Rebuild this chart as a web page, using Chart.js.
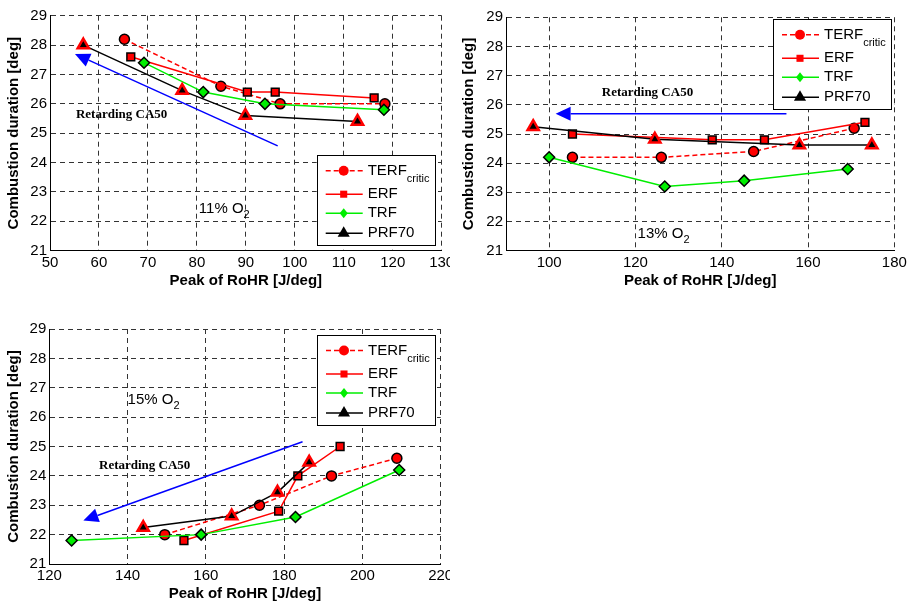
<!DOCTYPE html>
<html>
<head>
<meta charset="utf-8">
<script src="https://cdn.jsdelivr.net/npm/chart.js@4"></script>
<style>
  body { margin: 0; background: #fff; width: 912px; height: 605px; position: relative; overflow: hidden; }
  .panel { position: absolute; }
  canvas { display: block; }
</style>
</head>
<body>
<div class="panel" style="left:0;top:0"><canvas id="c11" width="450" height="300"></canvas></div>
<div class="panel" style="left:455px;top:0"><canvas id="c13" width="457" height="300"></canvas></div>
<div class="panel" style="left:0;top:300px"><canvas id="c15" width="450" height="305"></canvas></div>
<script>
// series names (first one carries a subscript in the legend)
var seriesNames = ["TERF", "ERF", "TRF", "PRF70"];
var seriesSubs = ["critic", "", "", ""];

// axis ticks
var yTicks = [21, 22, 23, 24, 25, 26, 27, 28, 29];
var xTicks11 = [50, 60, 70, 80, 90, 100, 110, 120, 130];
var xTicks13 = [100, 120, 140, 160, 180];
var xTicks15 = [120, 140, 160, 180, 200, 220];

// 11% O2 : peak of RoHR [J/deg] and combustion duration [deg]
var rohr11Terf = [65.2, 84.9, 97.0, 118.4];
var dur11Terf = [28.2, 26.6, 26.0, 26.0];
var rohr11Erf = [66.5, 90.3, 96.0, 116.2];
var dur11Erf = [27.6, 26.4, 26.4, 26.2];
var rohr11Trf = [69.2, 81.3, 93.9, 118.2];
var dur11Trf = [27.4, 26.4, 26.0, 25.8];
var rohr11Prf = [56.8, 77.0, 89.9, 112.8];
var dur11Prf = [28.0, 26.45, 25.6, 25.4];

// 13% O2
var rohr13Terf = [105.4, 126.0, 147.4, 170.7];
var dur13Terf = [24.2, 24.2, 24.4, 25.2];
var rohr13Erf = [105.4, 137.8, 149.9, 173.2];
var dur13Erf = [25.0, 24.8, 24.8, 25.4];
var rohr13Trf = [100.0, 126.8, 145.2, 169.2];
var dur13Trf = [24.2, 23.2, 23.4, 23.8];
var rohr13Prf = [96.3, 124.5, 158.0, 174.8];
var dur13Prf = [25.25, 24.82, 24.62, 24.62];

// 15% O2
var rohr15Terf = [149.5, 173.7, 192.1, 208.8];
var dur15Terf = [22.0, 23.0, 24.0, 24.6];
var rohr15Erf = [154.4, 178.6, 183.5, 194.3];
var dur15Erf = [21.8, 22.8, 24.0, 25.0];
var rohr15Trf = [125.7, 158.8, 182.9, 209.4];
var dur15Trf = [21.8, 22.0, 22.6, 24.2];
var rohr15Prf = [144.0, 166.6, 178.3, 186.4];
var dur15Prf = [22.24, 22.63, 23.44, 24.46];

var FONT = "'Liberation Sans', Arial, sans-serif";

var styles = [
  { borderColor: "#ff0000", borderWidth: 1.5, borderDash: [5, 3], pointStyle: "circle", pointRadius: 5,
    pointBackgroundColor: "#ff0000", pointBorderColor: "#000", pointBorderWidth: 1.5, order: 3 },
  { borderColor: "#ff0000", borderWidth: 1.5, pointStyle: "rect", pointRadius: 5.5,
    pointBackgroundColor: "#ff0000", pointBorderColor: "#000", pointBorderWidth: 1.5, order: 2 },
  { borderColor: "#00ee00", borderWidth: 1.5, pointStyle: "rectRot", pointRadius: 5.5,
    pointBackgroundColor: "#00ee00", pointBorderColor: "#000", pointBorderWidth: 1.5, order: 1 },
  { borderColor: "#000000", borderWidth: 1.5, pointStyle: "triangle", pointRadius: 6.5,
    pointBackgroundColor: "#000", pointBorderColor: "#ff0000", pointBorderWidth: 2.5, order: 0 }
];

function series(i, xs, ys) {
  var ds = { label: seriesNames[i], showLine: true, data: [] };
  for (var k = 0; k < xs.length; k++) ds.data.push({ x: xs[k], y: ys[k] });
  for (var key in styles[i]) ds[key] = styles[i][key];
  return ds;
}

function drawMarker(ctx, style, x, y, r) {
  ctx.beginPath();
  if (style === "circle") {
    ctx.arc(x, y, r, 0, Math.PI * 2);
  } else if (style === "rect") {
    var s = r * Math.SQRT1_2;
    ctx.rect(x - s, y - s, 2 * s, 2 * s);
  } else if (style === "rectRot") {
    ctx.moveTo(x, y - r); ctx.lineTo(x + r * 0.8, y); ctx.lineTo(x, y + r); ctx.lineTo(x - r * 0.8, y);
    ctx.closePath();
  } else {
    ctx.moveTo(x, y - r);
    ctx.lineTo(x + r * 0.866, y + r * 0.5);
    ctx.lineTo(x - r * 0.866, y + r * 0.5);
    ctx.closePath();
  }
  ctx.fill();
}

// arrow, notes and the boxed legend
var decorPlugin = {
  id: "decor",
  afterDatasetsDraw: function (chart, args, o) {
    var ctx = chart.ctx, xs = chart.scales.x, ys = chart.scales.y, a = chart.chartArea;
    ctx.save();

    // blue "retarding" arrow
    var x1 = xs.getPixelForValue(o.arrow[0][0]), y1 = ys.getPixelForValue(o.arrow[0][1]);
    var x2 = xs.getPixelForValue(o.arrow[1][0]), y2 = ys.getPixelForValue(o.arrow[1][1]);
    var c = Math.cos(Math.atan2(y2 - y1, x2 - x1)), s = Math.sin(Math.atan2(y2 - y1, x2 - x1));
    var L = 15, W = 7;
    ctx.strokeStyle = "#0000ff"; ctx.fillStyle = "#0000ff"; ctx.lineWidth = 1.5;
    ctx.beginPath(); ctx.moveTo(x1, y1); ctx.lineTo(x2 - L * c, y2 - L * s); ctx.stroke();
    ctx.beginPath();
    ctx.moveTo(x2, y2);
    ctx.lineTo(x2 - L * c - W * s, y2 - L * s + W * c);
    ctx.lineTo(x2 - L * c + W * s, y2 - L * s - W * c);
    ctx.closePath(); ctx.fill();

    // notes
    ctx.fillStyle = "#000"; ctx.textAlign = "left"; ctx.textBaseline = "alphabetic";
    ctx.font = "bold 13px 'Liberation Serif', 'Times New Roman', serif";
    ctx.fillText("Retarding CA50", xs.getPixelForValue(o.note[0]), ys.getPixelForValue(o.note[1]));
    var ox = xs.getPixelForValue(o.o2At[0]), oy = ys.getPixelForValue(o.o2At[1]);
    ctx.font = "15px " + FONT;
    var t = o.o2 + "% O";
    ctx.fillText(t, ox, oy);
    var tw = ctx.measureText(t).width;
    ctx.font = "11px " + FONT;
    ctx.fillText("2", ox + tw, oy + 5);

    // legend box
    var bx = a.right + o.legend[0], by = a.top + o.legend[1], bw = 118, bh = 90;
    ctx.fillStyle = "#fff"; ctx.fillRect(bx, by, bw, bh);
    ctx.strokeStyle = "#000"; ctx.lineWidth = 1;
    ctx.strokeRect(Math.round(bx) + 0.5, Math.round(by) + 0.5, bw, bh);
    var rows = [15.5, 39, 58, 78];
    chart.data.datasets.forEach(function (ds, i) {
      var ly = by + rows[i];
      ctx.strokeStyle = ds.borderColor; ctx.lineWidth = 1.5;
      ctx.setLineDash(ds.borderDash || []);
      ctx.beginPath(); ctx.moveTo(bx + 9, ly); ctx.lineTo(bx + 46, ly); ctx.stroke();
      ctx.setLineDash([]);
      ctx.fillStyle = ds.borderColor;
      drawMarker(ctx, ds.pointStyle, bx + 27, ly, ds.pointStyle === "triangle" ? 7 : 5);
      ctx.fillStyle = "#000";
      ctx.font = "15px " + FONT;
      ctx.textBaseline = "middle";
      ctx.fillText(seriesNames[i], bx + 51, ly);
      if (seriesSubs[i]) {
        var nw = ctx.measureText(seriesNames[i]).width;
        ctx.font = "11px " + FONT;
        ctx.fillText(seriesSubs[i], bx + 51 + nw, ly + 8);
      }
    });
    ctx.restore();
  }
};

function makeChart(id, datasets, xMin, xMax, xTicks, pad, yWidth, deco) {
  var tickFont = { family: FONT, size: 15 };
  var titleFont = { family: FONT, size: 15, weight: "bold" };
  return new Chart(document.getElementById(id), {
    type: "scatter",
    data: { datasets: datasets },
    plugins: [decorPlugin],
    options: {
      responsive: false,
      animation: false,
      layout: { autoPadding: false, padding: pad },
      plugins: { legend: { display: false }, tooltip: { enabled: false }, decor: deco },
      scales: {
        x: {
          type: "linear", min: xMin, max: xMax,
          afterBuildTicks: function (s) { s.ticks = xTicks.map(function (v) { return { value: v }; }); },
          afterFit: function (s) { s.height = 40; s.paddingLeft = 0; s.paddingRight = 0; },
          grid: { color: "#333", lineWidth: 1, drawTicks: false },
          border: { display: true, color: "#000", width: 1, dash: [5, 4] },
          ticks: { color: "#000", font: tickFont, padding: 3, maxRotation: 0, autoSkip: false },
          title: { display: true, text: "Peak of RoHR [J/deg]", color: "#000", font: titleFont, padding: { top: 0, bottom: 1 } }
        },
        y: {
          type: "linear", min: 21, max: 29,
          afterBuildTicks: function (s) { s.ticks = yTicks.map(function (v) { return { value: v }; }); },
          afterFit: function (s) { s.width = yWidth; s.paddingTop = 0; s.paddingBottom = 0; },
          grid: { color: "#333", lineWidth: 1, drawTicks: false },
          border: { display: true, color: "#000", width: 1, dash: [5, 4] },
          ticks: { color: "#000", font: tickFont, padding: 3, autoSkip: false },
          title: { display: true, text: "Combustion duration [deg]", color: "#000", font: titleFont, padding: { top: 5, bottom: 0 } }
        }
      }
    }
  });
}

makeChart("c11", [
  series(0, rohr11Terf, dur11Terf), series(1, rohr11Erf, dur11Erf),
  series(2, rohr11Trf, dur11Trf), series(3, rohr11Prf, dur11Prf)
], 50, 130, xTicks11, { left: 0, top: 15.7, right: 8.3, bottom: 9.3 }, 50, {
  arrow: [[96.5, 24.57], [55.1, 27.7]], note: [55.3, 25.52], o2: "11", o2At: [80.4, 22.28], legend: [-125, 139.5]
});

makeChart("c13", [
  series(0, rohr13Terf, dur13Terf), series(1, rohr13Erf, dur13Erf),
  series(2, rohr13Trf, dur13Trf), series(3, rohr13Prf, dur13Prf)
], 90, 180, xTicks13, { left: 0, top: 17.3, right: 17.7, bottom: 9.3 }, 51, {
  arrow: [[155, 25.69], [101.5, 25.69]], note: [112.2, 26.31], o2: "13", o2At: [120.5, 21.43], legend: [-121.3, 2]
});

makeChart("c15", [
  series(0, rohr15Terf, dur15Terf), series(1, rohr15Erf, dur15Erf),
  series(2, rohr15Trf, dur15Trf), series(3, rohr15Prf, dur15Prf)
], 120, 220, xTicks15, { left: 0, top: 29, right: 9.3, bottom: 1 }, 49.3, {
  arrow: [[184.7, 25.16], [128.7, 22.48]], note: [132.7, 24.22], o2: "15", o2At: [140.0, 26.45], legend: [-123.7, 6]
});
</script>
</body>
</html>
